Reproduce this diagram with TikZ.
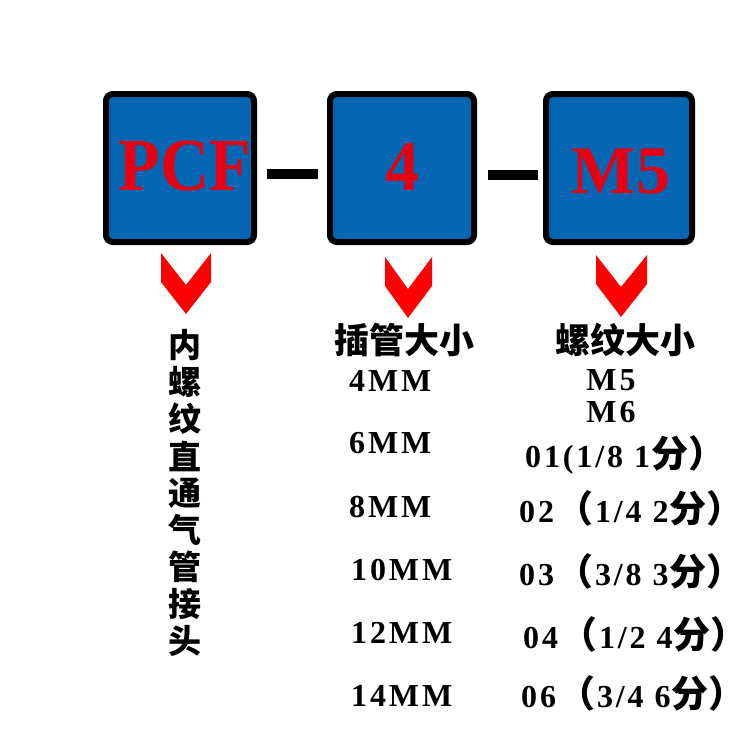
\documentclass[tikz,border=0pt]{standalone}
\usepackage{fontspec}
\setmainfont{Liberation Serif}
\newfontfamily\widefont{Liberation Serif}[LetterSpace=9]
\newfontfamily\cjk{Noto Sans CJK SC}
\usetikzlibrary{positioning}
\definecolor{partblue}{RGB}{2,102,178}
\definecolor{partred}{RGB}{230,0,18}
\definecolor{arrowred}{RGB}{255,0,0}
\newcommand{\cn}[1]{{\cjk\fontsize{37}{37}\selectfont\hspace{2pt}#1\hspace{2pt}}}
\newcommand{\fen}{{\cjk\fontsize{37}{37}\selectfont\hspace{1pt}分）}}

\begin{document}
\begin{tikzpicture}[x=1pt,y=-1pt,
  partbox/.style={draw=black,line width=6pt,fill=partblue,rounded corners=7pt,
    minimum width=148pt,minimum height=148pt,inner sep=0pt},
  codetext/.style={text=partred,font=\bfseries\fontsize{68}{68}\selectfont,inner sep=0pt},
  sizetext/.style={font=\widefont\bfseries\fontsize{32}{32}\selectfont,inner sep=0pt},
  headtext/.style={font=\cjk\bfseries\fontsize{35}{35}\selectfont,inner sep=0pt},
  vchar/.style={font=\cjk\bfseries\fontsize{33}{33}\selectfont,inner sep=0pt},
  dashline/.style={line width=10pt,black},
  chevron/.style={fill=arrowred}]
\useasboundingbox (0,0) rectangle (750,750);

% code boxes
\node [partbox] (pcf) at (180,168) {};
\node [partbox,minimum width=144pt] (tube) at (402,168) {};
\node [partbox,minimum width=146pt] (thread) at (619,168) {};
\node [codetext,yscale=1.1] (pcftext) at (185,166) {PCF};
\node [codetext,yscale=1.05] (tubetext) at (402,167) {4};
\node [codetext] (threadtext) at (621,172) {M5};

% dashes
\draw [dashline] ([xshift=10pt,yshift=-6pt]pcf.east) -- ([xshift=-9pt,yshift=-6pt]tube.west);
\draw [dashline] ([xshift=11pt,yshift=-7pt]tube.east) -- ([xshift=-5pt,yshift=-7pt]thread.west);

% chevrons
\fill [chevron] (161,253) -- (161,282) -- (186,314) -- (211,282) -- (211,253) -- (186,285) -- cycle;
\fill [chevron] (385,257) -- (385,286) -- (408,318) -- (432,286) -- (432,257) -- (408,289) -- cycle;
\fill [chevron] (596,255) -- (596,284) -- (621,317) -- (647,284) -- (647,255) -- (621,287) -- cycle;

% headings
\node [headtext] (tubehead) at (404,340) {插管大小};
\node [headtext] (threadhead) at (625,340) {螺纹大小};

% vertical name
\foreach \c [count=\i] in {内,螺,纹,直,通,气,管,接,头}
  \node [vchar] (name\i) at (185,308+37*\i) {\c};

% tube sizes
\node [sizetext,anchor=west] (t4) at (349,381) {4MM};
\node [sizetext,anchor=west] (t6) at (349,443) {6MM};
\node [sizetext,anchor=west] (t8) at (349,507) {8MM};
\node [sizetext,anchor=west] (t10) at (351,570) {10MM};
\node [sizetext,anchor=west] (t12) at (351,633) {12MM};
\node [sizetext,anchor=west] (t14) at (351,696) {14MM};

% thread sizes
\node [sizetext] (m5) at (611,380) {M5};
\node [sizetext] (m6) at (611,412) {M6};
\node [sizetext,anchor=west] (th01) at (525,455) {01(1/8 1\fen};
\node [sizetext,anchor=west] (th02) at (519,508) {02\cn{（}1/4 2\fen};
\node [sizetext,anchor=west] (th03) at (519,571) {03\cn{（}3/8 3\fen};
\node [sizetext,anchor=west] (th04) at (523,634) {04\cn{（}1/2 4\fen};
\node [sizetext,anchor=west] (th06) at (521,693) {06\cn{（}3/4 6\fen};
\end{tikzpicture}
\end{document}
